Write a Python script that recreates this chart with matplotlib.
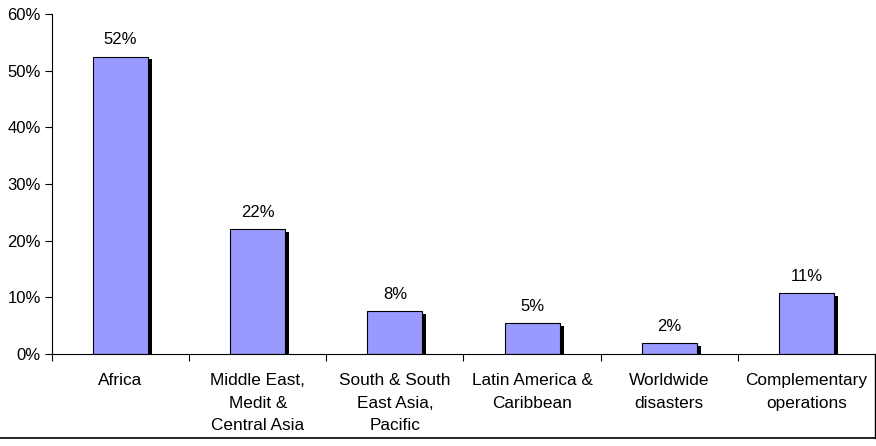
import numpy as np
import matplotlib
matplotlib.use("Agg")
from matplotlib import pyplot as plt
from matplotlib.lines import Line2D

categories = ["Africa", "Middle East,\nMedit &\nCentral Asia", "South & South\nEast Asia,\nPacific",
              "Latin America &\nCaribbean", "Worldwide\ndisasters", "Complementary\noperations"]
values = [52.5, 22.0, 7.6, 5.5, 1.9, 10.8]
labels = ["52%", "22%", "8%", "5%", "2%", "11%"]

plt.rcParams['font.family'] = ['Liberation Sans', 'DejaVu Sans']

fig = plt.figure(figsize=(8.76, 4.46), dpi=100)
ax = fig.add_axes([52 / 876, 92 / 446, 823 / 876, 340 / 446])

x = np.arange(len(categories))
w = 0.4
# shadow
ax.bar(x + 0.03, np.array(values) - 0.5, width=w, bottom=0, color="black", zorder=1)
ax.bar(x, values, width=w, color="#9999ff", edgecolor="black", linewidth=0.8, zorder=2)

for xi, v, lab in zip(x, values, labels):
    ax.text(xi, v + 1.6, lab, ha="center", va="bottom", fontsize=12)

ax.set_xlim(-0.5, len(categories) - 0.5)
ax.set_ylim(0, 60)
ax.set_yticks(np.arange(0, 61, 10))
ax.set_yticklabels([f"{t}%" for t in range(0, 61, 10)], fontsize=12)
ax.set_xticks(np.arange(-0.5, len(categories), 1))
ax.set_xticklabels([])
ax.set_xticks(x, minor=True)
ax.set_xticklabels(categories, minor=True, fontsize=12.4, linespacing=1.62, va="top")
ax.tick_params(axis="x", which="minor", length=0, pad=14)
ax.tick_params(axis="x", which="major", direction="out", length=5, width=0.8)
ax.tick_params(axis="y", direction="out", length=5, width=0.8, pad=3)

for s in ["top", "right"]:
    ax.spines[s].set_visible(False)
ax.spines["left"].set_linewidth(0.8)
ax.spines["bottom"].set_linewidth(0.8)

# outer frame pieces
fig.add_artist(Line2D([0, 1], [1 - 438 / 446] * 2, color="black", linewidth=1.2, transform=fig.transFigure))
fig.add_artist(Line2D([875 / 876] * 2, [1 - 438 / 446, 92 / 446], color="black", linewidth=1.0, transform=fig.transFigure))

fig.savefig("out.png", dpi=100)
